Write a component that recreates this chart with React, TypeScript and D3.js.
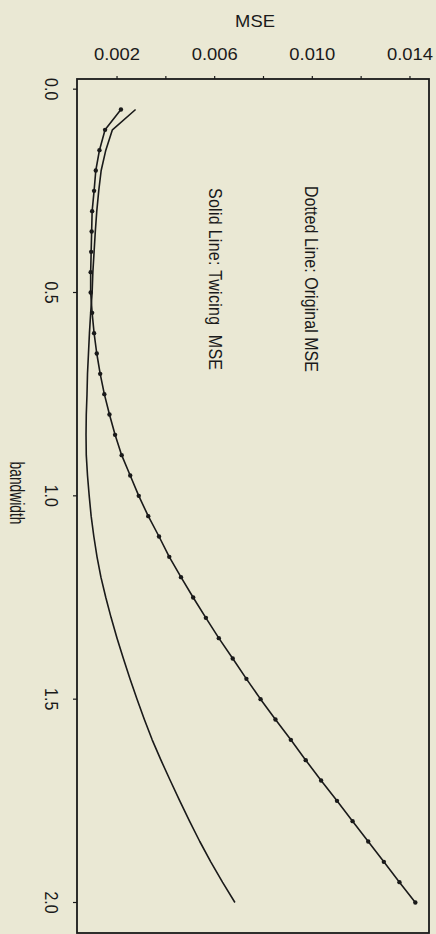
import React, { useEffect } from "react";
import * as d3 from "d3";

const bandwidth = [
  0.05, 0.1, 0.15, 0.2, 0.25, 0.3, 0.35, 0.4, 0.45, 0.5,
  0.55, 0.6, 0.65, 0.7, 0.75, 0.8, 0.85, 0.9, 0.95, 1.0,
  1.05, 1.1, 1.15, 1.2, 1.25, 1.3, 1.35, 1.4, 1.45, 1.5,
  1.55, 1.6, 1.65, 1.7, 1.75, 1.8, 1.85, 1.9, 1.95, 2.0,
];

const originalMSE = [
  0.00216, 0.00151, 0.00128, 0.00113, 0.00106, 0.00098, 0.00096, 0.00094, 0.00092, 0.00092,
  0.00098, 0.00106, 0.00117, 0.00131, 0.00148, 0.00169, 0.00192, 0.00219, 0.00254, 0.00289,
  0.00328, 0.00372, 0.00414, 0.00462, 0.00512, 0.00564, 0.00617, 0.00674, 0.0073, 0.00788,
  0.00849, 0.00912, 0.00973, 0.01036, 0.01101, 0.01165, 0.01229, 0.01293, 0.01357, 0.01422,
];

const twicingMSE = [
  0.00276, 0.00181, 0.00154, 0.00135, 0.00125, 0.00117, 0.00111, 0.00106, 0.00101, 0.00098,
  0.00092, 0.00087, 0.00083, 0.00079, 0.00077, 0.00074, 0.00073, 0.00074, 0.00079, 0.00086,
  0.00094, 0.00105, 0.00118, 0.00134, 0.00154, 0.00176, 0.002, 0.00226, 0.00253, 0.00282,
  0.00312, 0.00344, 0.0038, 0.00418, 0.00457, 0.00497, 0.00539, 0.00584, 0.00632, 0.00683,
];

const mseTicks = [0.002, 0.004, 0.006, 0.008, 0.01, 0.012, 0.014];
const mseTickLabels = ["0.002", "", "0.006", "", "0.010", "", "0.014"];
const bwTicks = [0, 0.5, 1.0, 1.5, 2.0];
const bwTickLabels = ["0.0", "0.5", "1.0", "1.5", "2.0"];

const W = 436;
const H = 934;
const BG = "#eae8d4";
const INK = "#1a1a1a";
const FONT = "'Liberation Sans', Arial, Helvetica, sans-serif";
const SX = 1.15;

export default function App() {
  useEffect(() => {
    document.body.style.margin = "0";
    document.body.style.background = BG;
  }, []);

  const x = d3.scaleLinear().domain([0.00036, 0.01478]).range([77, 429]);
  const y = d3.scaleLinear().domain([-0.025, 2.075]).range([79, 933]);

  const orig = bandwidth.map((b, i) => [originalMSE[i], b] as [number, number]);
  const twic = bandwidth.map((b, i) => [twicingMSE[i], b] as [number, number]);
  const line = d3
    .line<[number, number]>()
    .x((d) => x(d[0]))
    .y((d) => y(d[1]));

  const [x0, x1] = x.range();
  const [y0, y1] = y.range();

  return (
    <svg width={W} height={H} style={{ position: "absolute", left: 0, top: 0, display: "block" }}>
      <rect x={0} y={0} width={W} height={H} fill={BG} />
      {/* frame */}
      <rect x={x0} y={y0} width={x1 - x0} height={y1 - y0} fill="none" stroke={INK} strokeWidth={1.8} />
      {/* top axis ticks */}
      {mseTicks.map((t, i) => (
        <g key={"mt" + i}>
          <line x1={x(t)} x2={x(t)} y1={y0} y2={y0 - 3} stroke={INK} strokeWidth={1.2} />
          {mseTickLabels[i] && (
            <text
              transform={`translate(${x(t)},60) scale(${SX},1)`}
              textAnchor="middle"
              fontFamily={FONT}
              fontSize={16}
              fill={INK}
            >
              {mseTickLabels[i]}
            </text>
          )}
        </g>
      ))}
      <text
        transform={`translate(255,26.5) scale(${SX},1)`}
        textAnchor="middle"
        fontFamily={FONT}
        fontSize={16}
        fill={INK}
      >
        MSE
      </text>
      {/* left axis ticks */}
      {bwTicks.map((t, i) => (
        <g key={"bt" + i}>
          <line x1={x0} x2={x0 - 4} y1={y(t)} y2={y(t)} stroke={INK} strokeWidth={1.2} />
          <text
            transform={`translate(45,${y(t)}) scale(${SX},1) rotate(90)`}
            textAnchor="middle"
            fontFamily={FONT}
            fontSize={16}
            fill={INK}
          >
            {bwTickLabels[i]}
          </text>
        </g>
      ))}
      <text
        transform={`translate(10,493) scale(${SX},1) rotate(90)`}
        textAnchor="middle"
        fontFamily={FONT}
        fontSize={17}
        fill={INK}
        textLength={63}
        lengthAdjust="spacingAndGlyphs"
      >
        bandwidth
      </text>
      {/* annotations */}
      <text
        transform={`translate(305,186) scale(${SX},1) rotate(90)`}
        textAnchor="start"
        fontFamily={FONT}
        fontSize={16}
        fill={INK}
        textLength={186}
        style={{ whiteSpace: "pre" }}
      >
        Dotted Line: Original MSE
      </text>
      <text
        transform={`translate(208.5,188) scale(${SX},1) rotate(90)`}
        textAnchor="start"
        fontFamily={FONT}
        fontSize={16}
        fill={INK}
        textLength={182}
        style={{ whiteSpace: "pre" }}
      >
        {"Solid Line: Twicing  MSE"}
      </text>
      {/* series */}
      <path d={line(twic) || ""} fill="none" stroke={INK} strokeWidth={1.6} strokeLinejoin="round" />
      <path d={line(orig) || ""} fill="none" stroke={INK} strokeWidth={1.6} strokeLinejoin="round" />
      {orig.map((d, i) => (
        <circle key={"p" + i} cx={x(d[0])} cy={y(d[1])} r={2.2} fill={INK} />
      ))}
    </svg>
  );
}
